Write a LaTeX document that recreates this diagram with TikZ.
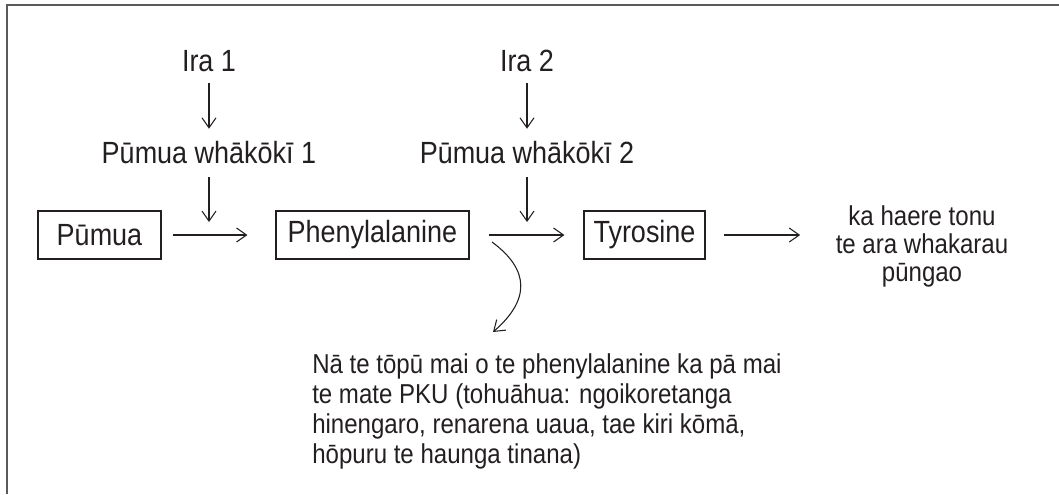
\documentclass[tikz,border=0pt]{standalone}
\usepackage{fontspec}
\setmainfont{Liberation Sans}[FakeStretch=0.88]
\usetikzlibrary{arrows.meta}
\definecolor{ink}{RGB}{35,31,32}
\definecolor{framecol}{RGB}{90,90,90}
\tikzset{
  arr/.style={draw=ink, line width=0.8pt, -{Straight Barb[length=7.5pt,width=10.5pt]}},
  stepbox/.style={draw=ink, line width=0.8pt, inner sep=0pt, minimum height=36pt,
    font=\fontsize{23pt}{27pt}\selectfont, text=ink},
  lbl/.style={inner sep=0pt, anchor=base, text height=16.5pt, text depth=0pt,
    font=\fontsize{23pt}{27pt}\selectfont, text=ink},
  note/.style={inner sep=0pt, font=\fontsize{20.5pt}{22.5pt}\selectfont, text=ink},
  sidenote/.style={inner sep=0pt, font=\fontsize{20.5pt}{21pt}\selectfont, text=ink}
}
\begin{document}
\begin{tikzpicture}[x=0.75pt,y=-0.75pt]
\useasboundingbox (0,0) rectangle (1059,494);
\draw[framecol, line width=1.5pt] (1059,5) -- (7,5) -- (7,494);

% boxes
\node[stepbox, minimum width=92.25pt] (pumua) at (99.5,235) {Pūmua};
\node[stepbox, minimum width=144.75pt] (phen) at (372.5,235) {Phenylalanine};
\node[stepbox, minimum width=90.75pt] (tyr) at (644.5,235) {Tyrosine};

% labels
\node[lbl] (ira1) at (209,71) {Ira 1};
\node[lbl] (pw1) at (209,163) {Pūmua whākōkī 1};
\node[lbl] (ira2) at (527,71) {Ira 2};
\node[lbl] (pw2) at (527,163) {Pūmua whākōkī 2};

\node[sidenote, align=center] (cont) at (922,246) {ka haere tonu\\te ara whakarau\\pūngao};
\node[note, align=left, anchor=north west] (pku) at (312,353)
  {Nā te tōpū mai o te phenylalanine ka pā mai\\
   te mate PKU (tohuāhua: ngoikoretanga\\
   hinengaro, renarena uaua, tae kiri kōmā,\\
   hōpuru te haunga tinana)};

% coordinates
\coordinate (r1) at (209,222);
\coordinate (r2) at (527,222);
\coordinate (c0) at (492,242);
\coordinate (c1) at (493,332);

% arrows
\draw[arr, shorten <=9pt, shorten >=9pt] (ira1.south) -- (pw1.north);
\draw[arr, shorten <=10.5pt] (pw1.south) -- (r1);
\draw[arr, shorten <=9pt, shorten >=9pt] (ira2.south) -- (pw2.north);
\draw[arr, shorten <=10.5pt] (pw2.south) -- (r2);

\draw[arr, shorten <=8.25pt, shorten >=21pt] (pumua.east) -- (phen.west);
\draw[arr, shorten <=14.25pt, shorten >=14.25pt] (phen.east) -- (tyr.west);
\draw[arr, shorten <=13.5pt, shorten >=26.5pt] (tyr.east) -- (cont.west |- tyr.east);

\draw[arr] (c0) .. controls (530,270) and (530,300) .. (c1);
\end{tikzpicture}
\end{document}
